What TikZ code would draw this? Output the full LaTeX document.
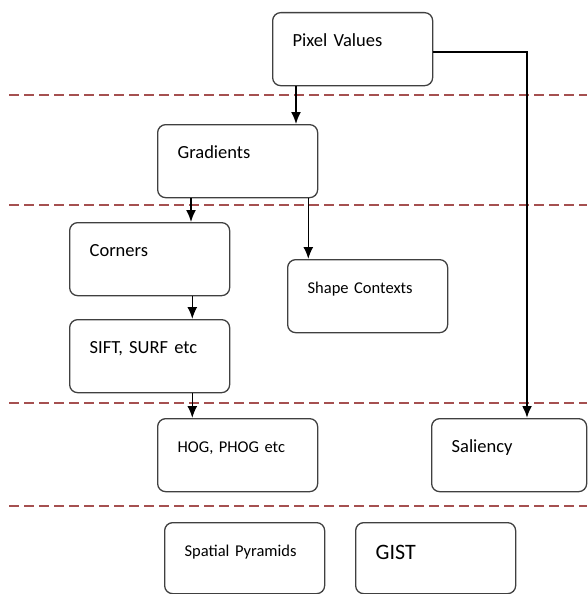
\documentclass[tikz,border=0pt]{standalone}
\usepackage{fontspec}
\setmainfont{Carlito}
\usetikzlibrary{arrows.meta}
\tikzset{>={Latex[length=12pt,width=10pt]}}
\definecolor{sepred}{RGB}{165,80,80}
\tikzset{
    stage/.style={draw=black!75, line width=1.3pt, rounded corners=8pt, anchor=north west,
        text width=120pt, inner xsep=20pt, inner ysep=0pt, text height=34pt, text depth=39pt,
        align=left, font=\fontsize{18.5}{20}\selectfont},
    smalltext/.style={font=\fontsize{16.5}{18}\selectfont},
    sepline/.style={dash pattern=on 10pt off 5pt, draw=sepred, line width=1.5pt},
    flow/.style={->, line width=1.6pt}
}

\begin{document}
\begin{tikzpicture}[x=1pt, y=-1pt]
    \useasboundingbox (0,0) rectangle (587,594);
    % level separators
    \draw[sepline](9, 95)--(587, 95);
    \draw[sepline](9, 205)--(587, 205);
    \draw[sepline](9, 403)--(587, 403);
    \draw[sepline](9, 506)--(587, 506);
    \node[stage](pixel) at (272, 12){Pixel Values};
    \node[stage](gradients) at (157, 124){Gradients};
    \node[stage](corners) at (69, 222){Corners};
    \node[stage, smalltext](shape) at (287, 259){Shape Contexts};
    \node[stage](sift) at (69, 319){SIFT, SURF etc};
    \node[stage, smalltext](hog) at (157, 418){HOG, PHOG etc};
    \node[stage, text width=115pt](saliency) at (431, 418){Saliency};
    \node[stage, smalltext, text depth=37pt](spatial) at (164, 522){Spatial Pyramids};
    \node[stage, font=\fontsize{22}{24}\selectfont, text height=37pt, text depth=34pt](gist) at (355, 522){GIST};
    \draw[flow]([xshift=24pt]pixel.south west)--([xshift=24pt]pixel.south west |- gradients.north);
    \draw[flow]([xshift=34pt]gradients.south west)--([xshift=34pt]gradients.south west |- corners.north);
    \draw[flow]([xshift=-10pt]gradients.south east)--([xshift=-10pt]gradients.south east |- shape.north);
    \draw[flow]([xshift=-38pt]corners.south east)--([xshift=-38pt]corners.south east |- sift.north);
    \draw[flow]([xshift=-38pt]sift.south east)--([xshift=-38pt]sift.south east |- hog.north);
    %\draw[flow](pixel.east)-|(saliency.north);
    \draw[flow, line width=2.2pt]([yshift=-2.5pt]pixel.east)-|([xshift=96pt]saliency.north west);
\end{tikzpicture}
\end{document}
